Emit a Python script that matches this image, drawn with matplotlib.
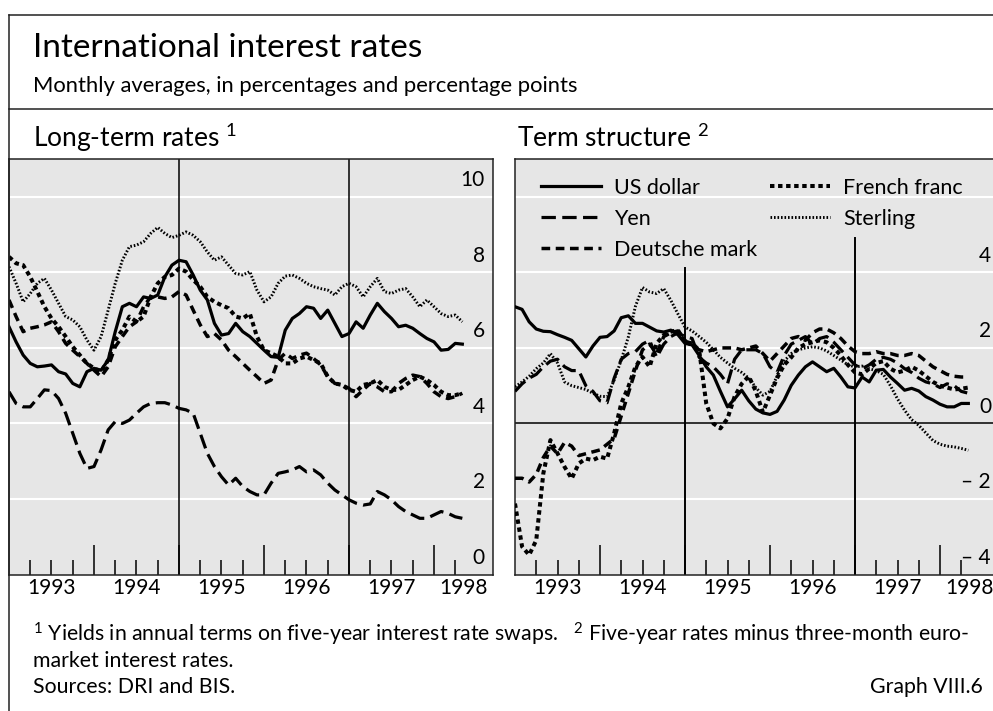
# %% IMPORTS
import numpy as np
import matplotlib.pyplot as plt
import matplotlib.transforms as mtransforms
from matplotlib.lines import Line2D

plt.rcParams['font.family'] = ['Lato', 'DejaVu Sans']
plt.rcParams['mathtext.fontset'] = 'custom'
plt.rcParams['mathtext.rm'] = 'Lato'
plt.rcParams['mathtext.it'] = 'Lato'

# %% DATA: monthly, Jan 1993 .. May 1998 (65 months)
months = 1993 + np.arange(65) / 12
series_names = ['US dollar', 'Yen', 'Deutsche mark', 'French franc', 'Sterling']

# long-term rates (5-year swap yields), %
lt_usd = [6.56, 6.16, 5.81, 5.59, 5.50, 5.52, 5.55, 5.37, 5.31, 5.06, 4.97, 5.37,
          5.46, 5.41, 5.68, 6.43, 7.09, 7.18, 7.09, 7.35, 7.31, 7.40, 7.88, 8.19,
          8.32, 8.28, 7.93, 7.53, 7.27, 6.65, 6.34, 6.38, 6.65, 6.43, 6.30, 6.12,
          5.94, 5.77, 5.75, 6.47, 6.78, 6.91, 7.09, 7.05, 6.78, 7.00, 6.65, 6.30,
          6.38, 6.69, 6.52, 6.87, 7.18, 6.96, 6.78, 6.56, 6.60, 6.52, 6.38, 6.25,
          6.16, 5.94, 5.96, 6.12, 6.10]
lt_yen = [4.84, 4.53, 4.44, 4.44, 4.66, 4.89, 4.87, 4.66, 4.27, 3.74, 3.21, 2.81,
          2.86, 3.30, 3.83, 4.05, 4.00, 4.09, 4.27, 4.44, 4.53, 4.55, 4.55, 4.49,
          4.40, 4.36, 4.27, 3.74, 3.21, 2.86, 2.59, 2.37, 2.55, 2.33, 2.20, 2.11,
          2.11, 2.42, 2.68, 2.72, 2.77, 2.86, 2.72, 2.77, 2.64, 2.42, 2.24, 2.11,
          1.98, 1.89, 1.84, 1.87, 2.20, 2.11, 1.98, 1.80, 1.67, 1.58, 1.49, 1.49,
          1.58, 1.67, 1.62, 1.53, 1.49]
lt_dem = [7.27, 6.83, 6.43, 6.52, 6.56, 6.61, 6.69, 6.43, 6.12, 5.94, 5.77, 5.59,
          5.41, 5.24, 5.50, 6.03, 6.30, 6.56, 6.69, 7.09, 7.35, 7.35, 7.31, 7.35,
          7.49, 7.40, 7.00, 6.61, 6.30, 6.38, 6.21, 5.94, 5.77, 5.59, 5.41, 5.24,
          5.06, 5.15, 5.68, 5.86, 5.72, 5.81, 5.86, 5.72, 5.55, 5.24, 5.06, 5.02,
          4.93, 4.71, 4.89, 5.06, 4.97, 4.84, 4.84, 5.06, 5.19, 5.28, 5.24, 5.06,
          4.84, 4.71, 4.66, 4.71, 4.80]
lt_frf = [8.41, 8.24, 8.19, 7.88, 7.49, 7.09, 6.78, 6.56, 6.30, 6.03, 5.81, 5.59,
          5.46, 5.37, 5.68, 6.21, 6.47, 6.83, 6.69, 6.83, 7.35, 7.71, 7.88, 7.93,
          8.10, 8.02, 7.80, 7.62, 7.35, 7.22, 7.13, 7.05, 6.83, 6.78, 6.91, 6.30,
          5.94, 5.86, 5.77, 5.59, 5.59, 5.72, 5.77, 5.68, 5.59, 5.24, 5.06, 5.02,
          4.89, 4.84, 5.02, 5.06, 5.15, 4.97, 4.89, 4.89, 5.02, 5.15, 5.24, 5.15,
          5.02, 4.84, 4.75, 4.75, 4.80]
lt_gbp = [8.15, 7.71, 7.22, 7.44, 7.71, 7.84, 7.53, 7.18, 6.83, 6.74, 6.56, 6.21,
          5.94, 6.30, 7.00, 7.71, 8.32, 8.68, 8.72, 8.81, 9.03, 9.19, 9.03, 8.92,
          8.98, 9.07, 8.98, 8.81, 8.54, 8.32, 8.41, 8.19, 7.97, 7.93, 8.02, 7.53,
          7.22, 7.35, 7.71, 7.90, 7.93, 7.84, 7.71, 7.62, 7.57, 7.53, 7.40, 7.62,
          7.71, 7.62, 7.35, 7.62, 7.84, 7.49, 7.44, 7.53, 7.57, 7.35, 7.09, 7.27,
          7.09, 6.91, 6.83, 6.87, 6.69]

# term structure (5-year minus 3-month), percentage points
ts_usd = [3.09, 3.02, 2.69, 2.50, 2.44, 2.43, 2.35, 2.28, 2.20, 1.98, 1.76, 2.05,
          2.28, 2.30, 2.45, 2.80, 2.85, 2.65, 2.65, 2.55, 2.45, 2.42, 2.47, 2.35,
          2.12, 2.08, 1.80, 1.50, 1.28, 0.85, 0.44, 0.65, 0.88, 0.60, 0.38, 0.28,
          0.24, 0.32, 0.62, 1.01, 1.28, 1.50, 1.63, 1.50, 1.37, 1.46, 1.23, 0.97,
          0.94, 1.23, 1.10, 1.41, 1.43, 1.23, 1.06, 0.88, 0.93, 0.86, 0.71, 0.62,
          0.51, 0.44, 0.44, 0.53, 0.53]
ts_yen = [0.85, 1.05, 1.20, 1.30, 1.50, 1.65, 1.70, 1.50, 1.40, 1.40, 1.00, 0.85,
          0.60, 0.55, 1.20, 1.70, 1.85, 1.90, 2.10, 2.20, 1.75, 2.10, 2.30, 2.40,
          2.30, 2.25, 1.75, 1.60, 1.50, 1.30, 1.05, 1.70, 1.95, 1.95, 1.95, 1.85,
          1.50, 1.35, 1.80, 2.10, 2.20, 2.30, 2.10, 2.25, 2.30, 2.15, 1.95, 1.75,
          1.55, 1.45, 1.55, 1.70, 1.75, 1.70, 1.60, 1.45, 1.35, 1.20, 1.10, 1.05,
          0.95, 1.05, 1.00, 0.85, 0.80]
ts_dem = [-1.45, -1.45, -1.55, -1.35, -0.90, -0.60, -0.80, -0.50, -0.60, -0.85, -0.80, -0.75,
          -0.70, -0.55, -0.40, 0.20, 0.80, 1.40, 1.95, 2.10, 1.85, 2.30, 2.40, 2.45,
          2.20, 2.05, 1.95, 1.90, 1.95, 2.00, 2.00, 2.00, 1.95, 2.00, 2.05, 1.85,
          1.65, 1.85, 2.05, 2.25, 2.30, 2.20, 2.40, 2.50, 2.50, 2.40, 2.25, 2.05,
          1.90, 1.85, 1.85, 1.90, 1.85, 1.85, 1.80, 1.80, 1.85, 1.80, 1.65, 1.50,
          1.40, 1.30, 1.25, 1.23, 1.23]
ts_frf = [-2.12, -3.26, -3.48, -3.09, -1.32, -0.44, -0.79, -1.15, -1.46, -1.06, -0.93, -0.97,
          -0.88, -0.93, -0.26, 0.53, 0.97, 1.50, 1.76, 1.50, 2.12, 2.34, 2.43, 2.47,
          2.16, 2.12, 1.94, 0.53, 0.00, -0.13, 0.13, 0.71, 1.05, 1.25, 0.85, 0.30,
          0.75, 1.20, 1.55, 1.75, 2.00, 2.10, 2.15, 2.20, 2.15, 2.00, 1.80, 1.55,
          1.35, 1.30, 1.45, 1.60, 1.65, 1.45, 1.35, 1.40, 1.50, 1.40, 1.25, 1.10,
          1.00, 0.95, 0.90, 0.92, 0.95]
ts_gbp = [0.97, 1.10, 1.25, 1.45, 1.60, 1.85, 1.60, 1.10, 1.00, 0.95, 0.90, 0.80,
          0.72, 0.71, 1.15, 1.68, 2.29, 3.10, 3.60, 3.48, 3.44, 3.57, 3.26, 2.90,
          2.55, 2.45, 2.30, 2.15, 1.95, 1.75, 1.60, 1.46, 1.35, 1.20, 0.95, 0.75,
          0.85, 1.25, 1.65, 1.85, 1.95, 2.00, 2.03, 2.00, 1.92, 1.80, 1.68, 1.55,
          1.50, 1.52, 1.45, 1.40, 1.30, 1.00, 0.65, 0.35, 0.10, -0.05, -0.25, -0.45,
          -0.55, -0.60, -0.62, -0.66, -0.71]

left_yticks = [0, 2, 4, 6, 8, 10]
right_yticks = [-4, -2, 0, 2, 4]
right_ylabels = ['\u2013 4', '\u2013 2', '0', '2', '4']
years = [1993, 1994, 1995, 1996, 1997, 1998]

# line styles for each currency (dash lengths scale with linewidth)
styles = {
    'US dollar':     dict(ls='-', lw=2.3),
    'Yen':           dict(ls=(0, (4.5, 2.0)), lw=2.3),
    'Deutsche mark': dict(ls=(0, (2.5, 1.6)), lw=2.5),
    'French franc':  dict(ls=(0, (1.1, 0.9)), lw=2.9),
    'Sterling':      dict(ls=(0, (0.55, 0.65)), lw=2.1),
}

# %% FIGURE
W, H = 993, 711
fig = plt.figure(figsize=(W / 100, H / 100), dpi=100)
fx = lambda px: px / W
fy = lambda py: 1 - py / H

x_end = 1993 + 484 / 85          # visible span of both panels
ax1 = fig.add_axes([fx(9), fy(574.6), 484 / W, 415.6 / H])
ax2 = fig.add_axes([fx(515), fy(574.6), 484 / W, 415.6 / H])

frame_c = '#222222'
for coords in [([fx(9), 1], [fy(15), fy(15)]),
               ([fx(9), fx(9)], [fy(15), 0]),
               ([fx(9), 1], [fy(109), fy(109)])]:
    fig.add_artist(Line2D(coords[0], coords[1], transform=fig.transFigure,
                          color=frame_c, lw=1.1))

lt_data = [lt_usd, lt_yen, lt_dem, lt_frf, lt_gbp]
ts_data = [ts_usd, ts_yen, ts_dem, ts_frf, ts_gbp]

for ax, data, ylim, grid in [(ax1, lt_data, (0, 11), [2, 4, 6, 8, 10]),
                             (ax2, ts_data, (-4, 7), [-2, 2, 4, 6])]:
    ax.set_facecolor('#e6e6e6')
    ax.set_xlim(1993, x_end)
    ax.set_ylim(*ylim)
    for y in grid:
        ax.axhline(y, color='white', lw=1.5, zorder=1)
    for name, vals in zip(series_names, data):
        st = styles[name]
        ax.plot(months, vals, color='black', ls=st['ls'], lw=st['lw'],
                label=name, zorder=3, dash_capstyle='butt')
    ax.set_yticks([])
    ax.set_xticks(years[1:])
    ax.set_xticks([y + q / 4 for y in years for q in (1, 2, 3)
                   if y + q / 4 < 1998.3], minor=True)
    ax.tick_params(axis='x', which='major', direction='in', length=21.6,
                   width=1.1, color='black', labelbottom=False)
    ax.tick_params(axis='x', which='minor', direction='in', length=10.8,
                   width=1.1, color='black')
    for sp in ax.spines.values():
        sp.set_color(frame_c)
        sp.set_linewidth(1.1)
    # year labels centred in each year
    for y in years:
        xc = y + 0.5 if y < 1998 else (1998 + x_end) / 2
        ax.text(xc, -0.033, str(y), transform=ax.get_xaxis_transform(),
                ha='center', va='center', fontsize=15)

ax1.axvline(1995, color='black', lw=1.1, zorder=2)
ax1.axvline(1997, color='black', lw=1.1, zorder=2)
ax2.axhline(0, color='black', lw=1.1, zorder=2)
ax2.axvline(1995, ymax=0.737, color='black', lw=1.4, zorder=2)
ax2.axvline(1997, ymax=0.809, color='black', lw=1.4, zorder=2)

# y labels sit just above their gridlines, inside the right edge
lift = mtransforms.ScaledTranslation(0, 0.167, fig.dpi_scale_trans)
for ax, ticks, labels in [(ax1, left_yticks, [str(t) for t in left_yticks]),
                          (ax2, right_yticks, right_ylabels)]:
    tr = mtransforms.blended_transform_factory(ax.transAxes, ax.transData) + lift
    for t, lab in zip(ticks, labels):
        ax.text(1 - 8 / 484, t, lab, transform=tr, ha='right', va='center',
                fontsize=15)

leg = ax2.legend(ncol=2, loc='upper left', bbox_to_anchor=(0.035, 0.975),
                 frameon=False, fontsize=15.5, handlelength=2.8,
                 handletextpad=0.6, columnspacing=0.6, labelspacing=0.5,
                 borderaxespad=0)

# %% TEXTS
fig.text(fx(33), fy(57), 'International interest rates', fontsize=24, va='baseline')
fig.text(fx(33), fy(92), 'Monthly averages, in percentages and percentage points',
         fontsize=15.8, va='baseline')
fig.text(fx(33), fy(147), r'Long-term rates $^1$', fontsize=19, va='baseline')
fig.text(fx(517), fy(147), r'Term structure $^2$', fontsize=19, va='baseline')
fig.text(fx(33), fy(642), r'$^1$ Yields in annual terms on five-year interest rate swaps.   '
         r'$^2$ Five-year rates minus three-month euro-', fontsize=15.3, va='baseline')
fig.text(fx(33), fy(667), 'market interest rates.', fontsize=15.3, va='baseline')
fig.text(fx(33), fy(693), 'Sources: DRI and BIS.', fontsize=15.3, va='baseline')
fig.text(fx(983), fy(693), 'Graph VIII.6', fontsize=15.3, va='baseline', ha='right')

plt.savefig('out.png', dpi=100)
# %% END
